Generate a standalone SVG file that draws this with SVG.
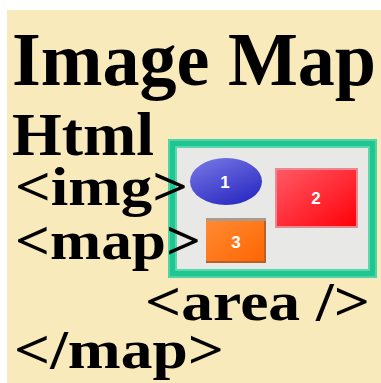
<svg xmlns="http://www.w3.org/2000/svg" width="381" height="383" viewBox="0 0 381 383">
<style>
.t{font-family:"Liberation Serif","Times New Roman",serif;font-weight:bold;fill:#000}
.n{font-family:"Liberation Sans",Arial,sans-serif;font-weight:bold;font-size:17px;fill:#fff;text-anchor:middle}
</style>
<defs>
<linearGradient id="gb" x1="0" y1="0" x2="0.6" y2="1"><stop offset="0" stop-color="#7A7AE6"/><stop offset="1" stop-color="#2E2EC4"/></linearGradient>
<linearGradient id="gr" x1="0" y1="0" x2="1" y2="1"><stop offset="0" stop-color="#FF5A66"/><stop offset="1" stop-color="#FF0008"/></linearGradient>
<linearGradient id="go" x1="0" y1="0" x2="1" y2="1"><stop offset="0" stop-color="#FF8C34"/><stop offset="1" stop-color="#FF6400"/></linearGradient>
</defs>
<rect x="0" y="0" width="381" height="383" fill="#fff"/>
<rect x="7" y="10" width="374" height="373" fill="#F9EABC"/>
<g id="title">
<text class="t" x="12" y="85" font-size="77" textLength="364" lengthAdjust="spacingAndGlyphs">Image Map</text>
<text class="t" x="12" y="155" font-size="62" textLength="142" lengthAdjust="spacingAndGlyphs">Html</text>
</g>
<g id="imagebox">
<rect x="172.5" y="143.5" width="200" height="130" fill="#E8E8E6" stroke="#1FC690" stroke-width="9"/>
<rect x="169" y="140" width="207" height="137" fill="none" stroke="#5FD9B2" stroke-width="1.5"/>
<rect x="176" y="147" width="193" height="123" fill="none" stroke="#6EDDBA" stroke-width="1.5"/>
</g>
<g id="area1">
<ellipse cx="226" cy="181.5" rx="36" ry="23.5" fill="url(#gb)"/>
<text class="n" x="225" y="188">1</text>
</g>
<g id="area2">
<rect x="276" y="169" width="81" height="58" fill="url(#gr)" stroke="#E88890" stroke-width="2"/>
<text class="n" x="316" y="204">2</text>
</g>
<g id="area3">
<rect x="206" y="218" width="60" height="45" fill="url(#go)"/>
<rect x="206" y="218" width="60" height="3" fill="#A89C92"/>
<rect x="264" y="221" width="2" height="42" fill="#B8602A"/>
<rect x="206" y="261" width="60" height="2" fill="#B8602A"/>
<text class="n" x="236" y="248">3</text>
</g>
<g id="code">
<text class="t" x="15" y="205" font-size="54" textLength="173" lengthAdjust="spacingAndGlyphs">&lt;img&gt;</text>
<text class="t" x="15" y="259" font-size="54" textLength="186" lengthAdjust="spacingAndGlyphs">&lt;map&gt;</text>
<text class="t" x="145" y="320" font-size="54" textLength="225" lengthAdjust="spacingAndGlyphs">&lt;area /&gt;</text>
<text class="t" x="14" y="368" font-size="54" textLength="210" lengthAdjust="spacingAndGlyphs">&lt;/map&gt;</text>
</g>
</svg>
